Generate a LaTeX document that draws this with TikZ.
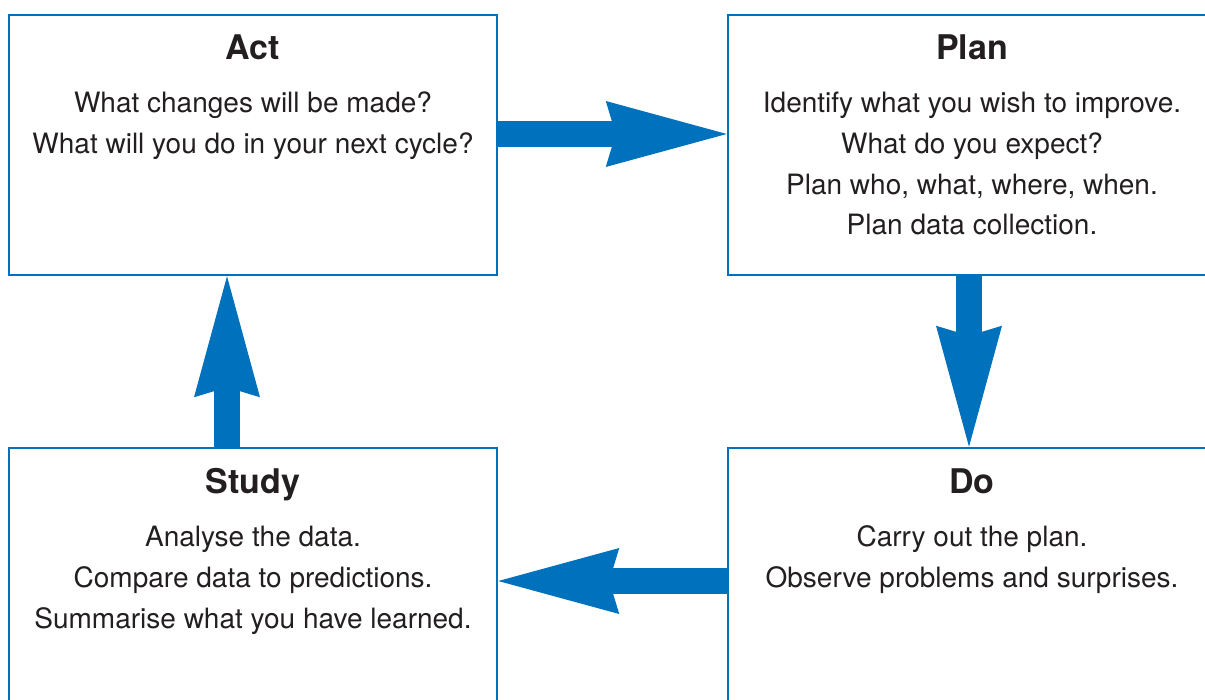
\documentclass[tikz,border=0pt]{standalone}
\usepackage{fontspec}
\setmainfont{TeX Gyre Heros}
\usetikzlibrary{arrows.meta,calc}
\definecolor{pdsablue}{HTML}{0071BC}
\definecolor{ink}{HTML}{231F20}
\begin{document}
\begin{tikzpicture}[x=1pt,y=-1pt,
  stage/.style={draw=pdsablue, line width=2.5pt, minimum width=488pt, minimum height=260pt, inner sep=0pt},
  head/.style={anchor=base, font=\fontsize{34}{40}\selectfont\bfseries, text=ink, inner sep=0pt},
  body/.style={anchor=base, font=\fontsize{28}{34}\selectfont, text=ink, inner sep=0pt},
  fat/.style={draw=pdsablue, line width=26.5pt, -{Stealth[length=121pt,width=66pt,inset=10pt,line width=0pt,fill=pdsablue]}}]
\useasboundingbox (0,0) rectangle (1205,700);
\clip (0,0) rectangle (1205,700);
\fill[white] (0,0) rectangle (1205,700);

\node[stage] (act) at (253,145) {};
\node[stage] (plan) at (972,145) {};
\node[stage] (study) at (253,578) {};
\node[stage] (do) at (972,578) {};

\node[head] (actT) at (253,60) {Act};
\node[body] (act1) at (253,113) {What changes will be made?};
\node[body] (act2) at (253,154) {What will you do in your next cycle?};

\node[head] (planT) at (972,60) {Plan};
\node[body] (plan1) at (972,113) {Identify what you wish to improve.};
\node[body] (plan2) at (972,154) {What do you expect?};
\node[body] (plan3) at (972,195) {Plan who, what, where, when.};
\node[body] (plan4) at (972,235) {Plan data collection.};

\node[head] (studyT) at (253,493) {Study};
\node[body] (study1) at (253,546) {Analyse the data.};
\node[body] (study2) at (253,587) {Compare data to predictions.};
\node[body] (study3) at (253,628) {Summarise what you have learned.};

\node[head] (doT) at (972,493) {Do};
\node[body] (do1) at (972,546) {Carry out the plan.};
\node[body] (do2) at (972,587) {Observe problems and surprises.};

\draw[fat] ($(act.east)+(0,-11)$) -- ($(plan.west)+(0,-11)$);
\draw[fat] ($(plan.south)+(-3,0)$) -- ($(do.north)+(-3,0)$);
\draw[fat] ($(do.west)+(0,3)$) -- ($(study.east)+(0,3)$);
\draw[fat] ($(study.north)+(-26,0)$) -- ($(act.south)+(-26,0)$);
\end{tikzpicture}
\end{document}
